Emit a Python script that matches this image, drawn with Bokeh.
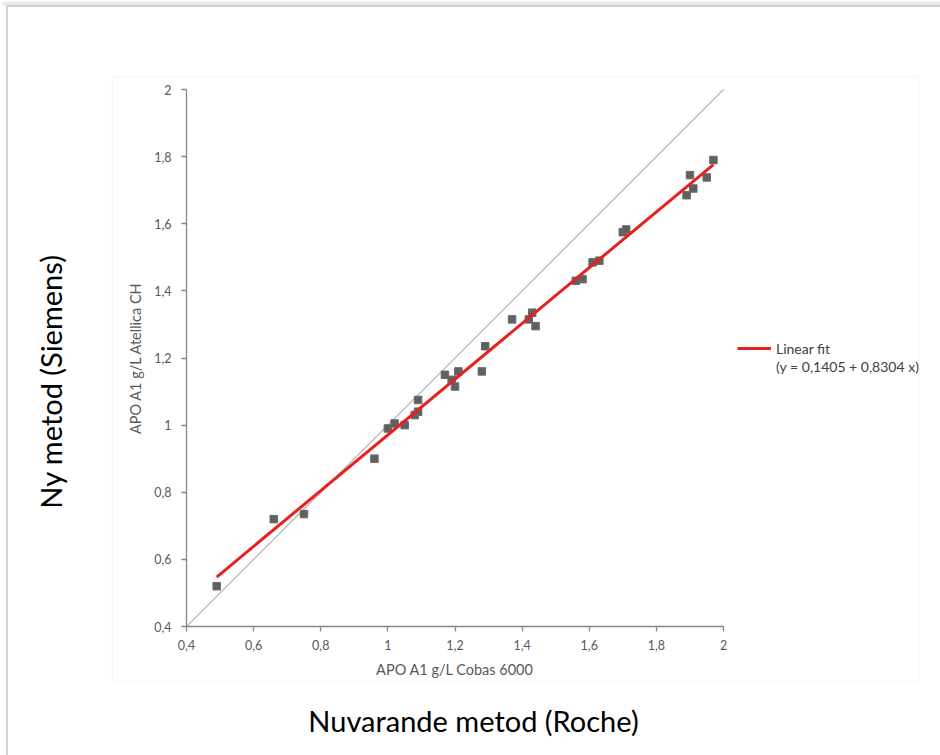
import math
from bokeh.plotting import figure
from bokeh.models import (FixedTicker, CustomJSTickFormatter, Range1d, Label,
                          BoxAnnotation, Legend, LegendItem, LinearAxis)
from bokeh.embed import file_html
from bokeh.resources import INLINE

# ---- data ----
cobas = [0.49, 0.66, 0.75, 0.96, 1.00, 1.02, 1.05, 1.08, 1.09, 1.09,
         1.17, 1.19, 1.20, 1.21, 1.28, 1.29, 1.37, 1.42, 1.43, 1.44,
         1.56, 1.58, 1.61, 1.63, 1.70, 1.71, 1.89, 1.90, 1.91, 1.95, 1.97]
atellica = [0.52, 0.72, 0.735, 0.90, 0.99, 1.005, 1.00, 1.03, 1.04, 1.075,
            1.15, 1.135, 1.115, 1.16, 1.16, 1.235, 1.315, 1.315, 1.335, 1.295,
            1.43, 1.435, 1.485, 1.49, 1.575, 1.583, 1.685, 1.745, 1.705, 1.738, 1.79]
tick_values = [0.4, 0.6, 0.8, 1.0, 1.2, 1.4, 1.6, 1.8, 2.0]
axis_min, axis_max = 0.4, 2.0
identity_x = [0.4, 2.0]
identity_y = [0.4, 2.0]
fit_intercept = 0.1405
fit_slope = 0.8304
x_title = "APO A1 g/L Cobas 6000"
y_title = "APO A1 g/L Atellica CH"
outer_x_title = "Nuvarande metod (Roche)"
outer_y_title = "Ny metod (Siemens)"
legend_title = "Linear fit"

FONT = "Lato"

# ---- page layout (pixels) ----
W, H = 940, 755
PX_L, PX_R = 186, 723     # x pixel of axis_min / axis_max
PX_T, PX_B = 89, 626      # y pixel of axis_max / axis_min
kx = (PX_R - PX_L) / (axis_max - axis_min)
ky = (PX_B - PX_T) / (axis_max - axis_min)
x_range = Range1d(axis_min - PX_L / kx, axis_max + (W - PX_R) / kx)
y_range = Range1d(axis_min - (H - PX_B) / ky, axis_max + PX_T / ky)

p = figure(width=W, height=H, output_backend="svg", toolbar_location=None,
           x_range=x_range, y_range=y_range,
           x_axis_location=None, y_axis_location=None, min_border=0)
p.outline_line_color = None
p.grid.grid_line_color = None
p.background_fill_color = "white"
p.border_fill_color = "white"

fmt = CustomJSTickFormatter(code="var s = (Math.round(tick*10)/10).toString(); return s.replace('.', ',');")


def make_axis(label):
    ax = LinearAxis(fixed_location=axis_min, bounds=(axis_min, axis_max))
    ax.ticker = FixedTicker(ticks=tick_values)
    ax.formatter = fmt
    ax.axis_line_color = "#878787"
    ax.axis_line_width = 1.3
    ax.major_tick_line_color = "#878787"
    ax.major_tick_line_width = 1.3
    ax.major_tick_out = 5
    ax.major_tick_in = 0
    ax.minor_tick_line_color = None
    ax.major_label_text_font = FONT
    ax.major_label_text_font_size = "12.5px"
    ax.major_label_text_color = "#595959"
    ax.axis_label = label
    ax.axis_label_text_font = FONT
    ax.axis_label_text_font_size = "14.5px"
    ax.axis_label_text_font_style = "normal"
    ax.axis_label_text_color = "#595959"
    return ax


xaxis = make_axis(x_title)
xaxis.major_label_standoff = 8
xaxis.axis_label_standoff = 8
yaxis = make_axis(y_title)
yaxis.major_label_standoff = 10
yaxis.axis_label_standoff = 7
p.add_layout(xaxis, "below")
p.add_layout(yaxis, "left")

# identity line
p.line(identity_x, identity_y, line_color="#bdbdbd", line_width=1.5)

# data points
p.scatter(cobas, atellica, marker="square", size=7.5,
          fill_color="#606060", line_color="#6a6a6a")

# linear fit line
x0, x1 = min(cobas), max(cobas)
fit_r = p.line([x0, x1], [fit_intercept + fit_slope * x0, fit_intercept + fit_slope * x1],
               line_color="#e8201d", line_width=3)
dummy = p.line(x=[], y=[], line_alpha=0)

eq = "(y = {:.4f} + {:.4f} x)".format(fit_intercept, fit_slope).replace(".", ",")
legend = Legend(items=[LegendItem(label=legend_title, renderers=[fit_r]),
                       LegendItem(label=eq, renderers=[dummy])],
                location=(737, H - 375), orientation="vertical",
                glyph_width=34, glyph_height=18, label_height=18, spacing=0,
                label_standoff=5, padding=0, margin=0,
                border_line_alpha=0, background_fill_alpha=0,
                label_text_font=FONT, label_text_font_size="14px",
                label_text_color="#404040")
p.add_layout(legend, "center")

# outer frame with soft shadow on top
p.add_layout(BoxAnnotation(left=2, right=W + 50, top=H - 1, bottom=H - 5,
                           left_units="screen", right_units="screen",
                           top_units="screen", bottom_units="screen",
                           fill_color="#e4e4e4", fill_alpha=0.8, line_alpha=0,
                           level="underlay"))
p.add_layout(BoxAnnotation(left=6.5, right=W + 50, top=H - 5.5, bottom=-50,
                           left_units="screen", right_units="screen",
                           top_units="screen", bottom_units="screen",
                           fill_alpha=0, line_color="#6b6b6b",
                           line_width=2, level="underlay"))
# inner chart box
p.add_layout(BoxAnnotation(left=112, right=918, top=H - 76, bottom=H - 681,
                           left_units="screen", right_units="screen",
                           top_units="screen", bottom_units="screen",
                           fill_alpha=0, line_color="#e2e2e2", line_width=1.5,
                           level="underlay"))

# outer titles
p.add_layout(Label(x=473, y=H - 720, x_units="screen", y_units="screen",
                   text=outer_x_title, text_font=FONT, text_font_size="29px",
                   text_align="center", text_baseline="middle", text_color="black"))
p.add_layout(Label(x=50, y=H - 381, x_units="screen", y_units="screen", angle=math.pi / 2,
                   text=outer_y_title, text_font=FONT, text_font_size="29px",
                   text_align="center", text_baseline="middle", text_color="black"))

open("out.html", "w").write(file_html(p, INLINE))
